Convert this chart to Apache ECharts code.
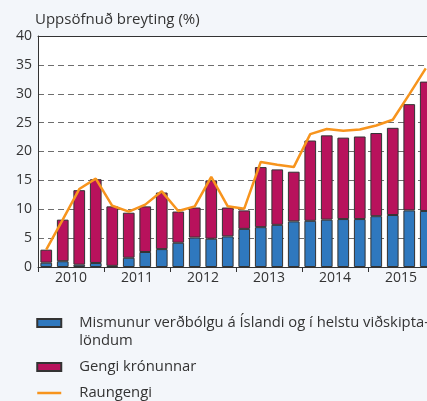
<!DOCTYPE html>
<html>
<head>
<meta charset="utf-8">
<script src="https://cdn.jsdelivr.net/npm/echarts@6/dist/echarts.min.js"></script>
<style>
  html, body { margin: 0; padding: 0; background: #f3f6fa; overflow: hidden; }
  /* plot runs a little past the right edge of the page */
  #chart { width: 441px; height: 401px; }
</style>
</head>
<body>
<div id="chart"></div>
<script>
// Quarterly categories, 2010 Q1 – 2015 Q4
const quarters = [
  '2010Q1','2010Q2','2010Q3','2010Q4',
  '2011Q1','2011Q2','2011Q3','2011Q4',
  '2012Q1','2012Q2','2012Q3','2012Q4',
  '2013Q1','2013Q2','2013Q3','2013Q4',
  '2014Q1','2014Q2','2014Q3','2014Q4',
  '2015Q1','2015Q2','2015Q3','2015Q4'
];
const years = ['2010', '2011', '2012', '2013', '2014', '2015'];
const yTicks = { min: 0, max: 40, step: 5 };

const nameInflation = 'Mismunur verðbólgu á Íslandi og í helstu viðskiptalöndum';
const nameCurrency = 'Gengi krónunnar';
const nameReal = 'Raungengi';

// Cumulative change (%)
const inflationDiff = [0.75, 1.0, 0.4, 0.7, 0.2, 1.6, 2.6, 3.1, 4.2, 5.1, 4.9, 5.3,
                       6.6, 6.9, 7.3, 7.9, 8.0, 8.2, 8.3, 8.3, 8.8, 9.0, 9.8, 9.7];
const currency = [2.25, 7.2, 12.9, 14.5, 10.3, 7.8, 7.9, 9.8, 5.4, 5.2, 10.1, 5.0,
                  3.2, 10.4, 9.6, 8.6, 13.9, 14.6, 14.1, 14.3, 14.4, 15.1, 18.4, 22.4];
const realRate = [3.0, 8.2, 13.5, 15.3, 10.6, 9.6, 10.8, 13.1, 9.7, 10.5, 15.6, 10.5,
                  10.1, 18.2, 17.7, 17.3, 23.0, 23.9, 23.6, 23.8, 24.5, 25.5, 29.9, 34.4];

const FONT = '"Open Sans", "Noto Sans", sans-serif';
const TXT = '#333333';
const ORANGE = '#f7941d';

const chart = echarts.init(document.getElementById('chart'), null, { renderer: 'canvas' });

chart.setOption({
  backgroundColor: '#f3f6fa',
  animation: false,
  textStyle: { fontFamily: FONT, color: TXT },
  title: {
    text: 'Uppsöfnuð breyting (%)',
    left: 30, top: 7,
    textStyle: { fontFamily: FONT, fontSize: 15, fontWeight: 'normal', color: TXT }
  },
  grid: {
    left: 38, top: 36, right: 7, bottom: 134,
    show: true, backgroundColor: '#ffffff', borderWidth: 0
  },
  legend: {
    orient: 'vertical',
    left: 36, top: 296, padding: 0,
    itemWidth: 24, itemHeight: 8,
    itemGap: 8,
    textStyle: { fontFamily: FONT, fontSize: 14.8, color: TXT, lineHeight: 18, padding: [0, 0, 0, 13] },
    formatter: function (name) {
      if (name === nameInflation) {
        return '\nMismunur verðbólgu á Íslandi og í helstu viðskipta-\nlöndum';
      }
      return name;
    },
    data: [
      { name: nameInflation, icon: 'rect' },
      { name: nameCurrency, icon: 'rect' },
      { name: nameReal, itemStyle: { opacity: 0 }, lineStyle: { width: 2.5, color: ORANGE } }
    ]
  },
  xAxis: [
    {
      type: 'category', data: quarters, gridIndex: 0, position: 'bottom',
      axisLine: { show: true, lineStyle: { color: '#333', width: 1 } },
      axisTick: { show: false }, axisLabel: { show: false }
    },
    {
      type: 'category', data: years, gridIndex: 0, position: 'bottom',
      boundaryGap: true,
      axisLine: { show: false },
      axisTick: { show: true, length: 5, lineStyle: { color: '#333' } },
      axisLabel: { fontFamily: FONT, fontSize: 14, color: TXT, margin: 4 }
    },
    {
      type: 'category', data: years, gridIndex: 0, position: 'top',
      axisLine: { show: true, lineStyle: { color: '#333', width: 1 } },
      axisTick: { show: false }, axisLabel: { show: false }
    }
  ],
  yAxis: {
    type: 'value', min: yTicks.min, max: yTicks.max, interval: yTicks.step,
    axisLine: { show: true, lineStyle: { color: '#333', width: 1 } },
    axisTick: { show: false },
    axisLabel: { fontFamily: FONT, fontSize: 14, color: TXT, margin: 6 },
    splitLine: { show: true, lineStyle: { color: '#6e6e6e', type: [6, 4], width: 1 } }
  },
  series: [
    {
      name: nameInflation, type: 'bar', stack: 'total', xAxisIndex: 0,
      data: inflationDiff, barCategoryGap: '29%',
      itemStyle: { color: '#2f78be', borderColor: '#333333', borderWidth: 1 }
    },
    {
      name: nameCurrency, type: 'bar', stack: 'total', xAxisIndex: 0,
      data: currency, barCategoryGap: '29%',
      itemStyle: { color: '#b8125c', borderColor: '#333333', borderWidth: 1 }
    },
    {
      name: nameReal, type: 'line', xAxisIndex: 0,
      data: realRate, symbol: 'none', z: 5,
      lineStyle: { color: ORANGE, width: 2.5 },
      itemStyle: { color: ORANGE }
    }
  ]
});
</script>
</body>
</html>
